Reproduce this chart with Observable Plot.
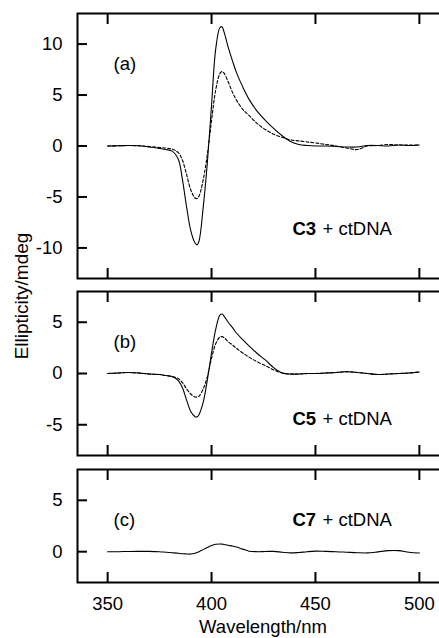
<!DOCTYPE html>
<html><head><meta charset="utf-8">
<script src="https://cdn.jsdelivr.net/npm/d3@7"></script>
<script src="https://cdn.jsdelivr.net/npm/@observablehq/plot@0.6"></script>
<style>
html,body{margin:0;padding:0;background:#fff;overflow:hidden;}
#chart{position:relative;width:439px;height:638px;overflow:hidden;font-family:"Liberation Sans",Arial,sans-serif;color:#000;}
.panel{position:absolute;left:0;}
#ylab{position:absolute;left:0;top:0;font-size:19px;line-height:1;white-space:nowrap;transform:translate(28px,296px) rotate(-90deg) translate(-50%,-0.8465em);transform-origin:0 0;}
#xlab{position:absolute;left:0;top:0;font-size:18.5px;line-height:1;white-space:nowrap;transform:translate(263px,634px) translate(-50%,-0.8465em);}
</style></head><body><div id="chart"><div id="ylab">Ellipticity/mdeg</div><div id="xlab">Wavelength/nm</div></div>
<script>
// Wavelength grid (nm)
const wavelength = [350,355,360,365,370,375,378,381,384,386,388,390,392,393,394,396,398,400,402,404,405,406,408,410,412,415,418,422,426,430,434,438,442,446,450,455,460,465,470,475,480,485,490,495,500];
// (a) C3 + ctDNA
const c3Solid  = [0,0.02,0.05,0.02,-0.1,-0.25,-0.35,-0.5,-1.3,-3.3,-6.0,-8.3,-9.5,-9.7,-9.3,-6.0,-1.6,4.0,9.5,11.6,11.7,11.2,9.7,8.4,7.2,5.8,4.6,3.4,2.5,1.7,1.0,0.45,0.15,0.05,0.0,0.0,-0.05,-0.1,-0.1,0.05,0.05,0.0,0.1,0.05,0.1];
const c3Dashed = [0,0.02,0.05,0.02,-0.05,-0.15,-0.2,-0.3,-0.65,-1.4,-2.8,-4.3,-5.1,-5.15,-4.9,-3.3,-0.8,2.5,5.5,7.1,7.3,7.15,6.3,5.3,4.5,3.6,3.0,2.2,1.6,1.15,0.85,0.6,0.5,0.4,0.3,0.15,0.0,-0.2,-0.35,0.0,0.05,0.15,0.1,0.1,0.1];
// (b) C5 + ctDNA
const c5Solid  = [0,0.05,0.1,0.05,-0.05,-0.1,-0.2,-0.3,-0.7,-1.4,-2.6,-3.7,-4.2,-4.25,-4.0,-2.8,-0.6,2.0,4.3,5.7,5.8,5.6,5.0,4.5,3.95,3.3,2.7,1.95,1.3,0.55,0.05,-0.05,-0.05,0.0,0.0,0.05,0.1,0.2,0.1,0.0,-0.1,-0.05,0.0,0.05,0.15];
const c5Dashed = [0,0.05,0.1,0.05,-0.05,-0.1,-0.2,-0.3,-0.5,-0.9,-1.5,-2.0,-2.3,-2.3,-2.2,-1.5,-0.3,1.5,2.9,3.55,3.6,3.5,3.1,2.8,2.45,2.0,1.6,1.14,0.75,0.35,0.05,-0.05,-0.05,0.0,0.0,0.05,0.1,0.15,0.1,0.0,-0.1,-0.05,0.0,0.05,0.15];
// (c) C7 + ctDNA
const c7Solid  = [0,0,0.02,0.03,0.03,0,-0.05,-0.1,-0.15,-0.2,-0.22,-0.23,-0.15,-0.08,0,0.2,0.4,0.6,0.72,0.75,0.74,0.7,0.62,0.55,0.45,0.25,0.05,0,0.02,0.03,-0.05,-0.12,-0.08,0.0,0.05,0.03,0.0,-0.05,-0.1,-0.12,-0.02,0.1,0.1,-0.05,-0.13];

const xTicks = [350,400,450,500];
const xDomain = [335.5,514.5];
const panelTags = ["(a)","(b)","(c)"];
const compounds = ["C3","C5","C7"];
const compSuffix = "+ ctDNA";

const FONT = "Liberation Sans, Arial, Helvetica, sans-serif";
const FS = 18.5;
const fmt = d => String(d);

function rows(ys){ return wavelength.map((w,i)=>({w, v: ys[i]})); }

function panel(cfg){
  const marks = [
    Plot.frame({stroke:"black", strokeWidth:2}),
    Plot.axisY(cfg.yTicks, {anchor:"left", tickSize:-10, strokeWidth:2, fill:"none", label:null}),
    Plot.axisY(cfg.yTicks, {anchor:"right", tickSize:-10, strokeWidth:2, fill:"none", label:null}),
    Plot.axisY(cfg.yTicks, {anchor:"left", tickSize:0, tickPadding:15, fontSize:FS, tickFormat:fmt, label:null}),
    Plot.axisX(xTicks, {anchor:"top", tickSize:-10, strokeWidth:2, fill:"none", label:null}),
    Plot.axisX(xTicks, {anchor:"bottom", tickSize:-10, strokeWidth:2, fill:"none", label:null}),
  ];
  if (cfg.showX) {
    marks.push(Plot.axisX(xTicks, {anchor:"bottom", tickSize:0, tickPadding:14, fontSize:FS, tickFormat:fmt, label:null}));
  }
  if (cfg.dashed) marks.push(Plot.line(rows(cfg.dashed), {x:"w", y:"v", curve:"catmull-rom", stroke:"black", strokeWidth:1.1, strokeDasharray:"3,2"}));
  marks.push(Plot.line(rows(cfg.solid), {x:"w", y:"v", curve:"catmull-rom", stroke:"black", strokeWidth:1.1}));
  marks.push(Plot.text([cfg.tag], {text:d=>d, frameAnchor:"top-left", dx:36, dy:43, textAnchor:"start", fontSize:FS}));
  marks.push(Plot.text([cfg.comp], {text:d=>d, frameAnchor:"top-left", dx:215, dy:cfg.compDy, textAnchor:"start", fontSize:FS, fontWeight:"bold"}));
  marks.push(Plot.text([compSuffix], {text:d=>d, frameAnchor:"top-left", dx:245, dy:cfg.compDy, textAnchor:"start", fontSize:FS}));

  const svg = Plot.plot({
    width:455, height:cfg.height,
    marginLeft:77, marginRight:6, marginTop:cfg.mt, marginBottom:cfg.mb,
    x:{domain:xDomain},
    y:{domain:cfg.yDomain},
    style:{fontFamily:FONT, fontSize:FS+"px", background:"transparent", maxWidth:"none", overflow:"visible", color:"black"},
    marks
  });
  svg.classList.add("panel");
  svg.style.top = cfg.top+"px";
  document.getElementById("chart").appendChild(svg);
}

panel({solid:c3Solid, dashed:c3Dashed, yDomain:[-13,13], yTicks:[-10,-5,0,5,10], tag:panelTags[0], comp:compounds[0], compDy:208, top:0, mt:13, mb:6, height:284});
panel({solid:c5Solid, dashed:c5Dashed, yDomain:[-8,8], yTicks:[-5,0,5], tag:panelTags[1], comp:compounds[1], compDy:120, top:284, mt:7, mb:6, height:177});
panel({solid:c7Solid, yDomain:[-3,8], yTicks:[0,5], tag:panelTags[2], comp:compounds[2], compDy:43, top:461, mt:8, mb:56, height:177, showX:true});
</script></body></html>
